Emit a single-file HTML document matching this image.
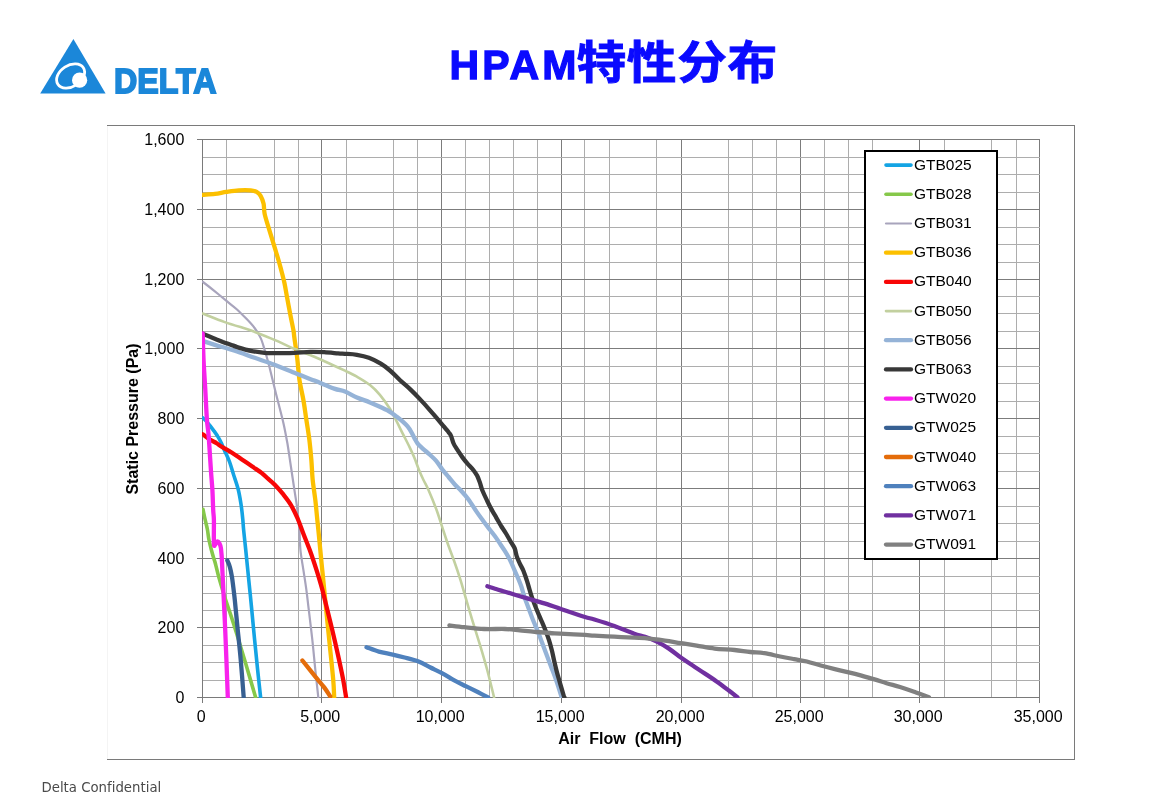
<!DOCTYPE html>
<html><head><meta charset="utf-8"><title>HPAM特性分布</title>
<style>
html,body{margin:0;padding:0;background:#fff;}
body{width:1155px;height:805px;overflow:hidden;position:relative;}
svg{position:absolute;left:0;top:0;will-change:transform;}
.t{font-family:"Liberation Sans",Arial,sans-serif;}
</style></head><body>
<svg width="1155" height="805" viewBox="0 0 1155 805">
<defs><clipPath id="pc"><rect x="202" y="139" width="838" height="559"/></clipPath></defs>
<!-- logo -->
<g>
<polygon points="73.4,39 40.2,93.4 105.6,93.4" fill="#1b87d9"/>
<ellipse cx="70.6" cy="76" rx="15.2" ry="10.6" transform="rotate(-33 70.6 76)" fill="none" stroke="#fff" stroke-width="2.8"/>
<circle cx="79.6" cy="80.2" r="7.6" fill="#fff"/>
<text x="114" y="93.4" font-family="Liberation Sans, Arial, sans-serif" font-weight="bold" font-size="35" fill="#1b87d9" stroke="#1b87d9" stroke-width="1.8" textLength="102.5" lengthAdjust="spacingAndGlyphs">DELTA</text>
</g>
<!-- title -->
<text x="449.5" y="78.6" fill="#0a0aff" font-weight="bold" font-family="Liberation Sans, Arial, sans-serif" font-size="41" letter-spacing="3.1" stroke="#0a0aff" stroke-width="1.3">HPAM</text>
<text transform="translate(576.5 79) scale(1.06 0.96)" x="0" y="0" fill="#0a0aff" font-weight="bold" font-family="Liberation Sans, 'Noto Sans CJK SC', sans-serif" font-size="47" letter-spacing="0.5" stroke="#0a0aff" stroke-width="0.9">特性分布</text>
<!-- chart frame -->
<rect x="107.5" y="125.5" width="967" height="634" fill="#fff" stroke="#7a7a7a" stroke-width="1"/>
<line x1="107.5" y1="126" x2="107.5" y2="759" stroke="#f4f4f4"/>
<g stroke-width="1" shape-rendering="crispEdges">
<line x1="226.5" y1="139" x2="226.5" y2="698" stroke="#adadad"/>
<line x1="274.5" y1="139" x2="274.5" y2="698" stroke="#adadad"/>
<line x1="298.5" y1="139" x2="298.5" y2="698" stroke="#adadad"/>
<line x1="321.5" y1="139" x2="321.5" y2="698" stroke="#7c7c7c"/>
<line x1="346.5" y1="139" x2="346.5" y2="698" stroke="#adadad"/>
<line x1="393.5" y1="139" x2="393.5" y2="698" stroke="#adadad"/>
<line x1="417.5" y1="139" x2="417.5" y2="698" stroke="#adadad"/>
<line x1="441.5" y1="139" x2="441.5" y2="698" stroke="#7c7c7c"/>
<line x1="465.5" y1="139" x2="465.5" y2="698" stroke="#adadad"/>
<line x1="489.5" y1="139" x2="489.5" y2="698" stroke="#adadad"/>
<line x1="513.5" y1="139" x2="513.5" y2="698" stroke="#adadad"/>
<line x1="537.5" y1="139" x2="537.5" y2="698" stroke="#adadad"/>
<line x1="561.5" y1="139" x2="561.5" y2="698" stroke="#7c7c7c"/>
<line x1="584.5" y1="139" x2="584.5" y2="698" stroke="#adadad"/>
<line x1="609.5" y1="139" x2="609.5" y2="698" stroke="#adadad"/>
<line x1="656.5" y1="139" x2="656.5" y2="698" stroke="#adadad"/>
<line x1="681.5" y1="139" x2="681.5" y2="698" stroke="#7c7c7c"/>
<line x1="728.5" y1="139" x2="728.5" y2="698" stroke="#adadad"/>
<line x1="752.5" y1="139" x2="752.5" y2="698" stroke="#adadad"/>
<line x1="776.5" y1="139" x2="776.5" y2="698" stroke="#adadad"/>
<line x1="800.5" y1="139" x2="800.5" y2="698" stroke="#7c7c7c"/>
<line x1="824.5" y1="139" x2="824.5" y2="698" stroke="#adadad"/>
<line x1="848.5" y1="139" x2="848.5" y2="698" stroke="#adadad"/>
<line x1="872.5" y1="139" x2="872.5" y2="698" stroke="#adadad"/>
<line x1="919.5" y1="139" x2="919.5" y2="698" stroke="#7c7c7c"/>
<line x1="944.5" y1="139" x2="944.5" y2="698" stroke="#adadad"/>
<line x1="991.5" y1="139" x2="991.5" y2="698" stroke="#adadad"/>
<line x1="1016.5" y1="139" x2="1016.5" y2="698" stroke="#adadad"/>
<line x1="1039.5" y1="139" x2="1039.5" y2="698" stroke="#7c7c7c"/>
<line x1="202" y1="680.5" x2="1040" y2="680.5" stroke="#adadad"/>
<line x1="202" y1="662.5" x2="1040" y2="662.5" stroke="#adadad"/>
<line x1="202" y1="645.5" x2="1040" y2="645.5" stroke="#adadad"/>
<line x1="202" y1="627.5" x2="1040" y2="627.5" stroke="#7c7c7c"/>
<line x1="202" y1="610.5" x2="1040" y2="610.5" stroke="#adadad"/>
<line x1="202" y1="593.5" x2="1040" y2="593.5" stroke="#adadad"/>
<line x1="202" y1="576.5" x2="1040" y2="576.5" stroke="#adadad"/>
<line x1="202" y1="558.5" x2="1040" y2="558.5" stroke="#7c7c7c"/>
<line x1="202" y1="541.5" x2="1040" y2="541.5" stroke="#adadad"/>
<line x1="202" y1="523.5" x2="1040" y2="523.5" stroke="#adadad"/>
<line x1="202" y1="506.5" x2="1040" y2="506.5" stroke="#adadad"/>
<line x1="202" y1="488.5" x2="1040" y2="488.5" stroke="#7c7c7c"/>
<line x1="202" y1="471.5" x2="1040" y2="471.5" stroke="#adadad"/>
<line x1="202" y1="453.5" x2="1040" y2="453.5" stroke="#adadad"/>
<line x1="202" y1="436.5" x2="1040" y2="436.5" stroke="#adadad"/>
<line x1="202" y1="418.5" x2="1040" y2="418.5" stroke="#7c7c7c"/>
<line x1="202" y1="401.5" x2="1040" y2="401.5" stroke="#adadad"/>
<line x1="202" y1="383.5" x2="1040" y2="383.5" stroke="#adadad"/>
<line x1="202" y1="366.5" x2="1040" y2="366.5" stroke="#adadad"/>
<line x1="202" y1="348.5" x2="1040" y2="348.5" stroke="#7c7c7c"/>
<line x1="202" y1="331.5" x2="1040" y2="331.5" stroke="#adadad"/>
<line x1="202" y1="313.5" x2="1040" y2="313.5" stroke="#adadad"/>
<line x1="202" y1="296.5" x2="1040" y2="296.5" stroke="#adadad"/>
<line x1="202" y1="279.5" x2="1040" y2="279.5" stroke="#7c7c7c"/>
<line x1="202" y1="262.5" x2="1040" y2="262.5" stroke="#adadad"/>
<line x1="202" y1="244.5" x2="1040" y2="244.5" stroke="#adadad"/>
<line x1="202" y1="227.5" x2="1040" y2="227.5" stroke="#adadad"/>
<line x1="202" y1="209.5" x2="1040" y2="209.5" stroke="#7c7c7c"/>
<line x1="202" y1="192.5" x2="1040" y2="192.5" stroke="#adadad"/>
<line x1="202" y1="174.5" x2="1040" y2="174.5" stroke="#adadad"/>
<line x1="202" y1="157.5" x2="1040" y2="157.5" stroke="#adadad"/>
<line x1="202" y1="139.5" x2="1040" y2="139.5" stroke="#7c7c7c"/>
</g>
<g stroke="#7a7a7a" stroke-width="1" shape-rendering="crispEdges">
<line x1="202.5" y1="139" x2="202.5" y2="698"/>
<line x1="202" y1="697.5" x2="1040" y2="697.5"/>
<line x1="197" y1="697.5" x2="203" y2="697.5"/>
<line x1="197" y1="627.5" x2="203" y2="627.5"/>
<line x1="197" y1="558.5" x2="203" y2="558.5"/>
<line x1="197" y1="488.5" x2="203" y2="488.5"/>
<line x1="197" y1="418.5" x2="203" y2="418.5"/>
<line x1="197" y1="348.5" x2="203" y2="348.5"/>
<line x1="197" y1="279.5" x2="203" y2="279.5"/>
<line x1="197" y1="209.5" x2="203" y2="209.5"/>
<line x1="197" y1="139.5" x2="203" y2="139.5"/>
<line x1="202.5" y1="697" x2="202.5" y2="703"/>
<line x1="321.5" y1="697" x2="321.5" y2="703"/>
<line x1="441.5" y1="697" x2="441.5" y2="703"/>
<line x1="561.5" y1="697" x2="561.5" y2="703"/>
<line x1="681.5" y1="697" x2="681.5" y2="703"/>
<line x1="800.5" y1="697" x2="800.5" y2="703"/>
<line x1="919.5" y1="697" x2="919.5" y2="703"/>
<line x1="1039.5" y1="697" x2="1039.5" y2="703"/>
</g>
<g clip-path="url(#pc)" fill="none" stroke-linejoin="round" stroke-linecap="round">
<path d="M203,418C203.7,418.7 206.1,421 207.3,422.4C208.5,423.8 209.3,424.7 210.4,426.1C211.5,427.6 212.8,429.4 214.1,431.1C215.3,432.9 216.7,434.5 217.9,436.6C219.2,438.7 220.5,441.3 221.6,443.5C222.7,445.7 223,446.9 224.3,450C225.6,453.1 228.1,457.9 229.6,462C231.1,466.1 232.1,470.2 233.6,474.8C235.1,479.4 237.1,484.9 238.3,489.8C239.5,494.7 240.2,499.2 241,504.2C241.8,509.1 242.4,515.3 242.8,519.5C243.2,523.7 243.1,524.6 243.6,529.6C244.1,534.6 245,542.9 245.7,549.5C246.4,556.1 247,562.8 247.7,569.4C248.4,576 249,582.7 249.7,589.3C250.4,595.9 250.9,600.8 251.7,609.2C252.5,617.6 253.6,629.6 254.6,639.6C255.6,649.6 256.6,659.9 257.6,669.5C258.6,679.1 260.1,692.7 260.6,697.3" stroke="#14a4e4" stroke-width="3.6"/>
<path d="M203,509.4C203.4,511.1 204.4,516.5 205.2,519.9C205.9,523.3 206.9,526.6 207.5,530C208.1,533.4 208.3,536.7 209,540C209.7,543.3 210.6,546.9 211.4,550C212.2,553.1 213.2,556.5 213.9,558.8C214.6,561.1 214.7,560.9 215.5,564C216.3,567.1 217.3,571.9 218.9,577.4C220.5,582.9 222.8,590.9 224.8,597.2C226.8,603.5 228.8,609 230.8,615.1C232.8,621.2 234.2,625.6 236.7,633.7C239.2,641.8 242.5,652.9 245.7,663.5C248.8,674.1 253.9,691.7 255.6,697.3" stroke="#86c84a" stroke-width="3.6"/>
<path d="M202.6,281.7C204.7,283.3 210.9,288.1 214.9,291.3C218.9,294.6 223.2,298.2 226.8,301.2C230.4,304.2 233.4,306.2 236.7,309.2C240,312.2 243.7,316 246.7,319.1C249.7,322.2 252.3,324.9 254.6,328C256.9,331.1 258.9,334.3 260.6,337.9C262.3,341.5 263.3,345.5 264.6,349.8C265.9,354.1 267.1,358.1 268.6,363.7C270.1,369.3 271.9,377 273.5,383.6C275.1,390.2 276.8,396.9 278.5,403.5C280.2,410.1 282,416.8 283.5,423.4C285,430 286.2,436.7 287.4,443.3C288.5,449.9 289.2,455.3 290.4,463.1C291.6,470.9 293.2,482.1 294.4,489.9C295.6,497.7 296.6,503.2 297.4,509.8C298.2,516.4 298.9,523 299.4,529.6C299.9,536.2 299.8,542.9 300.4,549.5C301,556.1 302.3,562.8 303.3,569.4C304.3,576 305.4,582.7 306.3,589.3C307.2,595.9 307.7,600.8 308.7,609.2C309.7,617.6 311.2,629.6 312.3,639.6C313.4,649.6 314.3,659.9 315.3,669.5C316.3,679.1 317.8,692.7 318.3,697.3" stroke="#a8a4bc" stroke-width="2.2"/>
<path d="M202.6,194.9C204.7,194.7 210.9,194.4 214.9,193.9C218.9,193.4 222.4,192.5 226.4,191.9C230.4,191.3 234.6,190.6 238.7,190.3C242.8,190 247.7,190 250.7,190.3C253.7,190.6 255,191 256.6,191.9C258.2,192.8 259.4,193.8 260.6,195.8C261.8,197.8 262.9,200.8 263.6,203.8C264.3,206.8 263.8,209.7 264.6,213.7C265.4,217.7 267.1,222.7 268.6,227.7C270.1,232.7 272.2,239.3 273.5,243.6C274.8,247.9 275.3,249.5 276.5,253.5C277.7,257.5 279.2,262.4 280.5,267.4C281.8,272.4 283.4,278 284.5,283.3C285.6,288.6 286.4,293.9 287.4,299.2C288.4,304.5 289.4,310 290.4,315.1C291.4,320.2 292.7,326.2 293.4,330C294.1,333.8 293.7,332.9 294.4,337.9C295.1,342.9 296.6,352.9 297.4,359.8C298.2,366.8 298.4,373 299.4,379.6C300.4,386.2 302.1,392.9 303.3,399.5C304.5,406.1 305.3,412.8 306.3,419.4C307.3,426 308.5,432.7 309.3,439.3C310.1,445.9 310.7,452.4 311.3,459.2C311.9,466 312,473.2 312.7,480C313.4,486.8 314.5,493.2 315.3,499.8C316.1,506.4 316.6,513.1 317.3,519.7C318,526.3 318.7,533 319.3,539.6C319.9,546.2 320.6,552.9 321.2,559.5C321.8,566.1 322.4,570.9 323.2,579.3C324,587.7 325,598.1 326.2,609.8C327.4,621.5 329,638 330.2,649.6C331.4,661.2 332.5,671.5 333.2,679.4C333.9,687.3 334,694.3 334.2,697.3" stroke="#fcc000" stroke-width="4.3"/>
<path d="M202.7,434.2C204,435.1 208.1,438.3 210.4,439.8C212.7,441.3 214.7,442 216.6,443.2C218.5,444.4 219.4,445.2 222,446.8C224.6,448.4 228.7,450.6 232,452.7C235.3,454.8 238.6,457.1 241.9,459.4C245.2,461.7 248.6,464 251.9,466.3C255.2,468.6 259.1,471 261.8,473.1C264.5,475.2 265.8,476.8 268,478.7C270.2,480.6 272.4,482.2 274.8,484.7C277.2,487.2 280.1,490.4 282.7,493.7C285.3,497 288.2,500.5 290.7,504.6C293.2,508.7 295.5,513.7 297.6,518.5C299.7,523.3 301.2,528.1 303.3,533.6C305.4,539.1 308.1,545.5 310.3,551.5C312.5,557.5 314.3,563.1 316.3,569.4C318.3,575.7 320.6,583.3 322.2,589.3C323.8,595.3 324.5,598.5 326.2,605.2C327.9,611.9 330.2,621.3 332.2,629.7C334.2,638.1 336.3,647.2 338.1,655.5C339.9,663.8 341.8,672.4 343.1,679.4C344.4,686.4 345.6,694.3 346.1,697.3" stroke="#f80606" stroke-width="4.3"/>
<path d="M202.6,313.5C206.3,314.9 217.5,319.5 224.8,322.1C232.2,324.7 241.7,327.4 246.7,329C251.7,330.6 250,330.1 254.6,331.9C259.2,333.7 267.9,337.1 274.5,339.9C281.1,342.7 287.8,346 294.4,348.8C301,351.6 307.7,354 314.3,356.8C320.9,359.6 329.1,363.4 334.2,365.7C339.3,368 341.2,368.9 345,370.7C348.8,372.5 352.7,374.3 356.9,376.7C361.1,379.1 366.2,382 370,385C373.8,388 376.6,390.9 379.9,394.9C383.2,398.9 387.1,404.3 389.9,408.8C392.7,413.3 394.5,417.2 396.8,421.7C399.1,426.2 401.6,431.4 403.8,435.7C406,440 408,443.8 409.8,447.6C411.6,451.4 413.2,454.8 414.7,458.5C416.2,462.2 417.5,466.4 419,470C420.5,473.6 421.9,476.7 423.5,480C425.1,483.3 426.3,484.9 428.5,489.9C430.7,494.9 434.2,503.5 436.5,509.8C438.8,516.1 440.4,521.8 442.4,527.7C444.4,533.7 446.4,539.9 448.4,545.5C450.4,551.1 452.3,555.9 454.3,561.5C456.3,567.1 458.3,572.9 460.3,579.3C462.3,585.7 464.3,593.1 466.3,599.9C468.3,606.6 469.9,612.2 472.2,619.8C474.5,627.4 477.7,637.3 480.2,645.6C482.7,653.9 484.8,660.9 487.1,669.5C489.4,678.1 492.9,692.7 494.1,697.3" stroke="#c2d09f" stroke-width="2.6"/>
<path d="M202.6,340.9C204.7,341.6 209.5,343.2 214.9,344.9C220.3,346.5 228.2,348.6 234.8,350.8C241.4,353 248,355.5 254.6,357.8C261.2,360.1 267.9,362.2 274.5,364.7C281.1,367.2 287.8,370 294.4,372.7C301,375.4 307.7,378 314.3,380.6C320.9,383.2 329.1,386.8 334.2,388.6C339.3,390.4 341.2,390.1 345,391.6C348.8,393.1 352.7,395.7 356.9,397.5C361.1,399.3 366.2,400.8 370,402.4C373.8,403.9 376.6,405.2 379.9,406.8C383.2,408.4 387.1,410.1 389.9,411.8C392.7,413.5 394.6,415.2 396.8,416.8C399,418.4 401,420.1 402.8,421.7C404.6,423.3 406.3,424.9 407.8,426.7C409.3,428.5 410.6,430.7 411.7,432.7C412.8,434.7 413.7,436.8 414.7,438.6C415.7,440.4 416.4,441.9 417.7,443.6C419,445.3 420.9,446.9 422.7,448.6C424.5,450.3 426.4,451.6 428.6,453.6C430.9,455.7 433.9,458.2 436.2,460.9C438.5,463.6 440.3,466.9 442.4,469.6C444.5,472.3 446.5,474.5 448.6,477C450.7,479.5 452.7,482.2 454.8,484.5C456.9,486.8 458.8,488.2 461.1,490.7C463.4,493.2 466,496 468.5,499.4C471,502.8 473.9,507.7 476.2,511.1C478.5,514.5 480.1,516.7 482.4,519.8C484.7,522.9 487.8,527.1 489.9,529.8C492,532.5 493.1,533.7 494.8,536C496.5,538.3 498.1,540.9 499.8,543.4C501.5,545.9 503.1,548.2 504.8,550.9C506.5,553.6 508.1,556.3 509.8,559.6C511.5,562.9 513.2,567.2 514.7,570.7C516.2,574.2 518,578 519.1,580.7C520.2,583.4 520.6,584.3 521.5,587C522.4,589.7 523.2,593.3 524.4,596.9C525.6,600.5 527.3,604.8 528.8,608.8C530.3,612.8 531.8,617.1 533.3,620.8C534.8,624.5 536.3,627.5 537.8,631.2C539.3,634.9 540.7,639.1 542.2,643.1C543.7,647.1 545.2,651 546.7,655C548.2,659 549.7,662.9 551.2,666.9C552.7,670.9 554.2,674.7 555.7,678.9C557.2,683.1 559.1,689.2 560.1,692.3C561.1,695.4 561.4,696.5 561.6,697.3" stroke="#95b3d7" stroke-width="4.3"/>
<path d="M202.5,333.7C204.2,334.4 209.5,336.5 212.9,337.9C216.3,339.3 219.6,340.6 222.9,341.9C226.2,343.1 230.2,344.4 232.8,345.4C235.4,346.3 235.7,346.7 238.7,347.6C241.7,348.5 246.4,349.9 250.7,350.8C255,351.7 260,352.4 264.6,352.8C269.2,353.2 273.5,353.2 278.5,353.2C283.5,353.2 289.1,353 294.4,352.8C299.7,352.6 305.3,351.9 310.3,351.8C315.3,351.7 319.6,351.9 324.2,352.2C328.8,352.5 334.6,353.1 338.1,353.4C341.6,353.7 341.9,353.6 345,353.8C348.1,354 352.9,354.1 356.9,354.8C360.9,355.5 364.9,356.3 368.9,357.8C372.9,359.3 377.3,361.6 380.8,363.7C384.3,365.8 386.8,367.8 390,370.5C393.2,373.2 396.5,376.9 399.8,380C403.1,383.1 406.5,385.8 409.8,388.9C413.1,392 416.4,395.4 419.7,398.9C423,402.4 426.9,406.7 429.6,409.8C432.4,412.9 434.1,414.9 436.2,417.4C438.3,419.9 440.3,422.3 442.4,424.8C444.5,427.3 447.2,430.4 448.6,432.3C450.1,434.2 450.3,434.1 451.1,436C451.9,437.9 452.6,441.2 453.6,443.5C454.6,445.8 455.9,447.4 457.3,449.7C458.8,452 460.6,454.8 462.3,457.1C464,459.4 465.4,461.2 467.3,463.4C469.2,465.6 471.9,468.1 473.5,470.2C475.1,472.3 476.2,473.8 477.2,475.8C478.2,477.8 478.8,479.6 479.7,482C480.6,484.4 481.1,487.4 482.3,490.3C483.5,493.2 485.1,496.6 486.6,499.6C488.1,502.7 489.5,505.7 491.1,508.6C492.7,511.6 494.4,514.4 496.1,517.3C497.8,520.2 499.5,523.3 501.1,526C502.8,528.7 504.4,530.8 506,533.5C507.6,536.2 509.6,539.7 511,542.2C512.5,544.7 513.8,546.1 514.7,548.4C515.6,550.7 515.8,553.3 516.6,555.8C517.4,558.3 518.6,560.8 519.7,563.3C520.8,565.8 522.3,568 523.4,570.7C524.5,573.4 525.6,576.9 526.5,579.4C527.4,581.9 527.6,583.1 528.5,586C529.4,588.9 530.5,593.1 531.8,596.9C533.1,600.7 534.8,605.1 536.3,608.8C537.8,612.5 539.3,615.8 540.8,619.3C542.3,622.8 543.8,626.2 545.2,629.7C546.6,633.2 547.9,636.6 549,640.1C550.1,643.6 551,647 551.9,650.5C552.8,654 553.3,657.3 554.2,661C555.1,664.7 556.1,669.2 557.1,672.9C558.1,676.6 559,679.4 560.1,683.3C561.2,687.1 563.1,693.7 563.8,696C564.5,698.3 564.3,697.1 564.4,697.3" stroke="#383838" stroke-width="4.3"/>
<path d="M202.7,333.5C202.8,335.4 202.8,339.6 203,344.9C203.2,350.1 203.4,357.6 203.8,365C204.2,372.4 204.8,380.5 205.3,389.6C205.8,398.7 206.4,412.5 206.9,419.4C207.4,426.3 207.8,427.1 208.2,431.1C208.6,435.1 208.8,437 209.2,443.5C209.6,450 210.4,462.2 210.9,470C211.4,477.8 212,483.4 212.4,490C212.8,496.6 212.9,504.9 213.2,509.9C213.4,514.9 213.8,514.4 213.9,520C214,525.6 213.7,539.3 213.9,543.5C214.1,547.7 214.4,545.3 215,545C215.6,544.7 216.4,541.8 217.2,541.5C217.9,541.2 218.9,542.4 219.5,543.5C220.1,544.6 220.6,546.1 220.9,548C221.2,549.9 221.4,553 221.6,555C221.8,557 221.7,556.7 221.9,560C222.1,563.3 222.3,568.4 222.6,575C222.9,581.6 223.4,590.8 223.8,599.9C224.2,609 224.8,619.8 225.2,629.7C225.6,639.6 226,648.2 226.4,659.5C226.8,670.8 227.6,691 227.8,697.3" stroke="#f822ec" stroke-width="4.3"/>
<path d="M227.3,560.4C227.6,561.1 228.6,563.2 229.2,564.9C229.8,566.6 230.3,568.6 230.7,570.5C231.1,572.4 231.5,574.5 231.8,576.1C232.1,577.7 231.9,576 232.4,580C232.9,584 233.9,591.6 234.8,599.9C235.7,608.2 236.7,619.8 237.7,629.7C238.7,639.6 239.7,648.2 240.7,659.5C241.7,670.8 243.2,691 243.7,697.3" stroke="#376092" stroke-width="4.3"/>
<path d="M302.4,660.5C304.4,663 310.7,670.9 314.3,675.4C317.9,679.9 321.6,683.9 324.2,687.4C326.8,690.9 329.2,694.8 330.2,696.3" stroke="#e46c0a" stroke-width="4.3"/>
<path d="M366.5,647.2C368.6,647.9 374.4,650.4 378.8,651.6C383.2,652.8 388.4,653.6 392.7,654.6C397,655.6 400.3,656.4 404.6,657.5C408.9,658.6 414.3,659.8 418.6,661.5C422.9,663.2 426.5,665.5 430.5,667.5C434.5,669.5 438.4,671.2 442.4,673.4C446.4,675.5 450.3,678.2 454.3,680.4C458.3,682.6 462.3,684.4 466.3,686.4C470.3,688.4 474.6,690.5 478.2,692.3C481.8,694.1 486.5,696.5 488.1,697.3" stroke="#4f81bd" stroke-width="4.3"/>
<path d="M487.4,586.3C488.8,586.8 493.1,588.1 496,589C498.9,589.9 501,590.5 505,591.7C509,592.9 514.9,594.7 519.9,596.2C524.9,597.7 529.8,599.1 534.8,600.6C539.8,602.1 544.7,603.5 549.7,605.1C554.7,606.7 558.7,608.3 564.6,610.3C570.5,612.3 580,615.5 585,617C590,618.5 589.5,618 594.4,619.5C599.3,621 607.7,623.6 614.3,626C620.9,628.4 629.1,631.9 634.2,633.7C639.3,635.5 641.2,635.4 645,636.7C648.8,638 652.9,639.6 656.9,641.6C660.9,643.6 664.9,646 668.9,648.6C672.9,651.2 676.8,654.7 680.8,657.5C684.8,660.3 688.7,662.9 692.7,665.5C696.7,668.1 700.6,670.8 704.6,673.4C708.6,676 712.6,678.6 716.6,681.4C720.6,684.2 725,687.6 728.5,690.3C732,692.9 735.9,696.1 737.4,697.3" stroke="#7030a0" stroke-width="4.3"/>
<path d="M449.4,625.4C451.9,625.7 458.5,626.6 464.3,627.2C470.1,627.8 477.4,628.7 484.2,629C491,629.3 499.1,628.8 505,629C510.9,629.2 514.9,629.9 519.9,630.4C524.9,630.9 529.8,631.5 534.8,631.9C539.8,632.3 544.7,632.7 549.7,633C554.7,633.3 558.7,633.6 564.6,633.9C570.5,634.2 580,634.6 585,634.9C590,635.2 589.5,635.4 594.4,635.7C599.3,636 607.7,636.4 614.3,636.7C620.9,637 629.1,637.5 634.2,637.7C639.3,638 639.9,637.7 645,638.2C650.1,638.7 658.9,639.8 664.9,640.6C670.9,641.4 675.5,642.4 680.8,643.2C686.1,644 691.1,644.7 696.7,645.6C702.3,646.5 708.3,647.9 714.6,648.6C720.9,649.3 728.5,649.4 734.5,650C740.5,650.6 745.4,651.5 750.4,652C755.4,652.5 759.3,652.5 764.3,653.2C769.3,654 775.2,655.5 780.2,656.5C785.2,657.5 789.7,658.3 794.1,659.1C798.5,659.9 802.5,660.4 806.9,661.5C811.3,662.6 816.1,664.2 820.8,665.5C825.4,666.8 830.1,668 834.8,669.1C839.4,670.2 844.4,671.4 848.7,672.4C853,673.4 856.3,674.2 860.6,675.4C864.9,676.6 870.2,678.1 874.5,679.4C878.8,680.7 882.2,681.9 886.5,683.2C890.8,684.5 895.1,685.5 900,687C904.9,688.5 911.2,690.8 916,692.5C920.8,694.2 926.8,696.4 929,697.2" stroke="#808080" stroke-width="4.3"/>
</g>
<g class="t" font-size="16" fill="#000">
<text x="184.3" y="702.8" text-anchor="end">0</text>
<text x="184.3" y="632.8" text-anchor="end">200</text>
<text x="184.3" y="563.8" text-anchor="end">400</text>
<text x="184.3" y="493.8" text-anchor="end">600</text>
<text x="184.3" y="423.8" text-anchor="end">800</text>
<text x="184.3" y="353.8" text-anchor="end">1,000</text>
<text x="184.3" y="284.8" text-anchor="end">1,200</text>
<text x="184.3" y="214.8" text-anchor="end">1,400</text>
<text x="184.3" y="144.8" text-anchor="end">1,600</text>
<text x="201.2" y="721.5" text-anchor="middle">0</text>
<text x="320.2" y="721.5" text-anchor="middle">5,000</text>
<text x="440.2" y="721.5" text-anchor="middle">10,000</text>
<text x="560.2" y="721.5" text-anchor="middle">15,000</text>
<text x="680.2" y="721.5" text-anchor="middle">20,000</text>
<text x="799.2" y="721.5" text-anchor="middle">25,000</text>
<text x="918.2" y="721.5" text-anchor="middle">30,000</text>
<text x="1038.2" y="721.5" text-anchor="middle">35,000</text>
</g>
<text class="t" x="620" y="744" font-size="16" font-weight="bold" text-anchor="middle" xml:space="preserve">Air  Flow  (CMH)</text>
<text class="t" transform="translate(137.7 419) rotate(-90)" font-size="16" font-weight="bold" text-anchor="middle">Static Pressure (Pa)</text>
<g class="t" font-size="15.5" fill="#000">
<rect x="865" y="151" width="132" height="408" fill="#fff" stroke="#000" stroke-width="2"/>
<line x1="886" y1="165.1" x2="911" y2="165.1" stroke="#14a4e4" stroke-width="3.6" stroke-linecap="round"/>
<text x="914" y="169.6">GTB025</text>
<line x1="886" y1="194.3" x2="911" y2="194.3" stroke="#86c84a" stroke-width="3.6" stroke-linecap="round"/>
<text x="914" y="198.8">GTB028</text>
<line x1="886" y1="223.5" x2="911" y2="223.5" stroke="#a8a4bc" stroke-width="2.2" stroke-linecap="round"/>
<text x="914" y="228">GTB031</text>
<line x1="886" y1="252.7" x2="911" y2="252.7" stroke="#fcc000" stroke-width="4.3" stroke-linecap="round"/>
<text x="914" y="257.2">GTB036</text>
<line x1="886" y1="281.9" x2="911" y2="281.9" stroke="#f80606" stroke-width="4.3" stroke-linecap="round"/>
<text x="914" y="286.4">GTB040</text>
<line x1="886" y1="311.1" x2="911" y2="311.1" stroke="#c2d09f" stroke-width="2.6" stroke-linecap="round"/>
<text x="914" y="315.6">GTB050</text>
<line x1="886" y1="340.2" x2="911" y2="340.2" stroke="#95b3d7" stroke-width="4.3" stroke-linecap="round"/>
<text x="914" y="344.7">GTB056</text>
<line x1="886" y1="369.4" x2="911" y2="369.4" stroke="#383838" stroke-width="4.3" stroke-linecap="round"/>
<text x="914" y="373.9">GTB063</text>
<line x1="886" y1="398.6" x2="911" y2="398.6" stroke="#f822ec" stroke-width="4.3" stroke-linecap="round"/>
<text x="914" y="403.1">GTW020</text>
<line x1="886" y1="427.8" x2="911" y2="427.8" stroke="#376092" stroke-width="4.3" stroke-linecap="round"/>
<text x="914" y="432.3">GTW025</text>
<line x1="886" y1="457" x2="911" y2="457" stroke="#e46c0a" stroke-width="4.3" stroke-linecap="round"/>
<text x="914" y="461.5">GTW040</text>
<line x1="886" y1="486.2" x2="911" y2="486.2" stroke="#4f81bd" stroke-width="4.3" stroke-linecap="round"/>
<text x="914" y="490.7">GTW063</text>
<line x1="886" y1="515.4" x2="911" y2="515.4" stroke="#7030a0" stroke-width="4.3" stroke-linecap="round"/>
<text x="914" y="519.9">GTW071</text>
<line x1="886" y1="544.6" x2="911" y2="544.6" stroke="#808080" stroke-width="4.3" stroke-linecap="round"/>
<text x="914" y="549.1">GTW091</text>
</g>
<text x="41.5" y="792" font-family="DejaVu Sans, sans-serif" font-size="13.3" fill="#4a4a4a" style="font-variant-ligatures:none">Delta Confidential</text>
</svg>
</body></html>
